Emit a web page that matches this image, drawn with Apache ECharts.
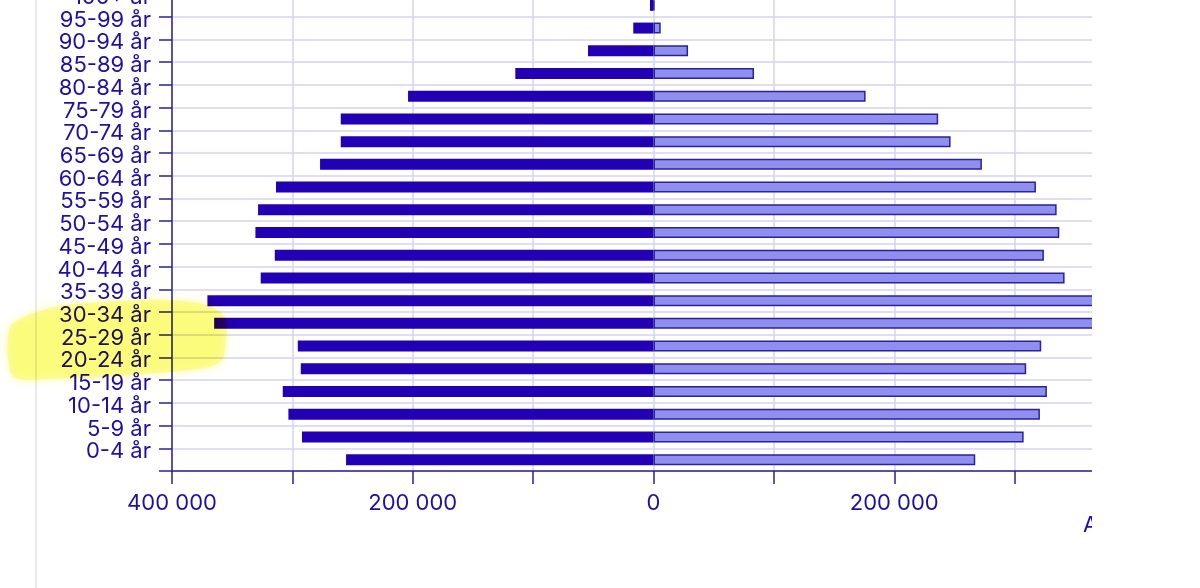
<!DOCTYPE html>
<html>
<head>
<meta charset="utf-8">
<script src="https://cdn.jsdelivr.net/npm/echarts@6/dist/echarts.min.js"></script>
<style>
html,body{margin:0;padding:0;background:#fff;}
#c{width:1200px;height:588px;}
</style>
</head>
<body>
<div id="c"></div>
<script>
var categories = ['0-4 år','5-9 år','10-14 år','15-19 år','20-24 år','25-29 år','30-34 år','35-39 år','40-44 år','45-49 år','50-54 år','55-59 år','60-64 år','65-69 år','70-74 år','75-79 år','80-84 år','85-89 år','90-94 år','95-99 år','100+ år'];
var men = [255400,292000,303300,308000,293000,295500,365000,370600,326300,314600,330700,328500,313600,277000,259800,259800,203900,114800,54400,16800,2900];
var women = [267300,307500,321000,326800,309600,322100,380000,375000,341500,324300,337100,334900,317700,272800,246800,236500,176200,83500,28700,6000,700];
var xTicks = {min:-400000, max:400000, step:100000, labelStep:200000};

var txt = '#1f0fa3';
var axisCol = '#2b2296';
var gridCol = '#d6d4ee';

function fmt(v){
  var a = Math.abs(v);
  return String(a).replace(/\B(?=(\d{3})+(?!\d))/g, ' ');
}

var chart = echarts.init(document.getElementById('c'));
chart.setOption({
  animation:false,
  grid:{left:172, right:65, top:-6, bottom:117, containLabel:false, outerBoundsMode:'none'},
  xAxis:{
    type:'value', min:xTicks.min, max:xTicks.max, interval:xTicks.step,
    axisLine:{show:true, onZero:false, lineStyle:{color:axisCol, width:1.5}},
    axisTick:{show:true, length:13, lineStyle:{color:axisCol, width:1.5}},
    splitLine:{show:true, lineStyle:{color:gridCol, width:1.5}},
    axisLabel:{
      margin:21, color:txt, fontFamily:'Inter', fontSize:22,
      formatter:function(v){ return (v % xTicks.labelStep === 0 && v < xTicks.max) ? fmt(v) : ''; }
    }
  },
  yAxis:{
    type:'category', data:categories,
    axisLine:{show:true, onZero:false, lineStyle:{color:axisCol, width:1.5}},
    axisTick:{show:true, length:13, interval:0, lineStyle:{color:axisCol, width:1.5}},
    splitLine:{show:true, interval:0, lineStyle:{color:gridCol, width:1.5}},
    axisLabel:{interval:0, margin:21, color:txt, fontFamily:'Inter', fontSize:22, lineHeight:16, verticalAlign:'bottom'}
  },
  series:[
    {type:'bar', name:'Män', data:men.map(function(v){return -v;}), barWidth:11, barGap:'-100%',
     itemStyle:{color:'#2200b4'}},
    {type:'bar', name:'Kvinnor', data:women, barWidth:11, barGap:'-100%',
     itemStyle:{color:'#8f8fef', borderColor:'#2b2299', borderWidth:1.5}}
  ],
  graphic:[
    {type:'text', left:1083, top:514, z:50, style:{text:'Antal', fill:txt, font:'22px Inter'}},
    {type:'rect', shape:{x:1092, y:0, width:120, height:588}, z:60, style:{fill:'#ffffff'}},
    {type:'line', shape:{x1:36, y1:0, x2:36, y2:588}, z:60, style:{stroke:'#e3e3e6', lineWidth:1.5}},
    {type:'polygon', z:70,
     shape:{smooth:0.35, points:[[13,323],[50,308],[100,302],[167,300],[207,305],[225,318],[226,340],[222,360],[205,368],[133,375],[50,379],[15,378],[8,360],[8,335]]},
     style:{fill:'#fdfc9e', opacity:0.8, blend:'multiply', shadowBlur:10, shadowColor:'#fdfc9e'}}
  ]
});
</script>
</body>
</html>
